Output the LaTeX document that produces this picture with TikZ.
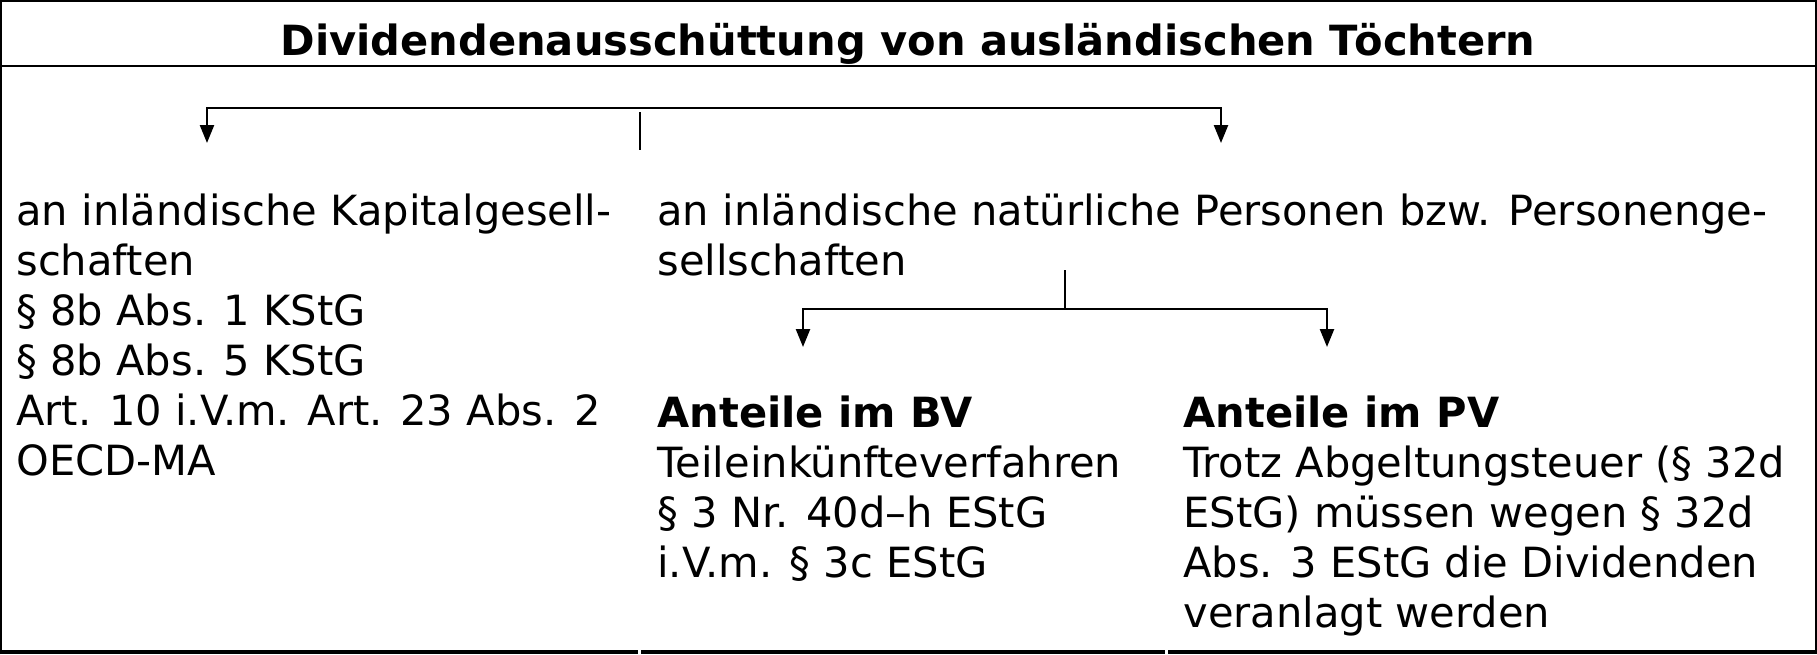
\documentclass[tikz,border=0pt]{standalone}
\usepackage{fontspec}
\setmainfont{DejaVu Sans}
\usetikzlibrary{arrows.meta}
\begin{document}
\begin{tikzpicture}[x=0.5pt,y=-0.5pt,
  frame/.style={line width=1.25pt},
  conn/.style={line width=1.2pt},
  arr/.style={conn,-{Triangle[width=7pt,length=9pt]}},
  txt/.style={anchor=base west,inner sep=0pt,font=\fontsize{20.8pt}{25pt}\selectfont},
  ttl/.style={anchor=base,inner sep=0pt,font=\bfseries\fontsize{20.8pt}{25pt}\selectfont}]
\useasboundingbox (0,0) rectangle (1817,654);
% frame
\draw[frame] (1,654) -- (1,1) -- (1816,1) -- (1816,654);
\draw[frame] (1,66) -- (1816,66);
\draw[line width=1.75pt] (0,652) -- (638,652);
\draw[line width=1.75pt] (641,652) -- (1165,652);
\draw[line width=1.75pt] (1168,652) -- (1817,652);
% title
\node[ttl] (title) at (908,55) {Dividendenausschüttung von ausländischen Töchtern};
% text blocks
\node[txt] (kap) at (16,225) {\vtop{\hbox{an inländische Kapitalgesell-}\hbox{schaften}\hbox{§ 8b Abs. 1 KStG}\hbox{§ 8b Abs. 5 KStG}\hbox{Art. 10 i.V.m. Art. 23 Abs. 2}\hbox{OECD-MA}}};
\node[txt] (nat) at (657,225) {\vtop{\hbox{an inländische natürliche Personen bzw. Personenge-}\hbox{sellschaften}}};
\node[txt] (bv) at (657,427) {\vtop{\hbox{\bfseries Anteile im BV}\hbox{Teileinkünfteverfahren}\hbox{§ 3 Nr. 40d–h EStG}\hbox{i.V.m. § 3c EStG}}};
\node[txt] (pv) at (1183,427) {\vtop{\hbox{\bfseries Anteile im PV}\hbox{Trotz Abgeltungsteuer (§ 32d}\hbox{EStG) müssen wegen § 32d}\hbox{Abs. 3 EStG die Dividenden}\hbox{veranlagt werden}}};
% connectors level 1
\coordinate (j1) at (640,108);
\coordinate (j1s) at (640,112);
\coordinate (j1e) at (640,150);
\coordinate (l1t) at (207,143);
\coordinate (r1t) at (1221,143);
\draw[conn] (j1s) -- (j1e);
\draw[arr] (j1) -| (l1t);
\draw[arr] (j1) -| (r1t);
% connectors level 2
\coordinate (j2) at (1065,309);
\coordinate (j2s) at (1065,270);
\coordinate (l2t) at (803,347);
\coordinate (r2t) at (1327,347);
\draw[conn] (j2s) -- (j2);
\draw[arr] (j2) -| (l2t);
\draw[arr] (j2) -| (r2t);
\end{tikzpicture}
\end{document}
